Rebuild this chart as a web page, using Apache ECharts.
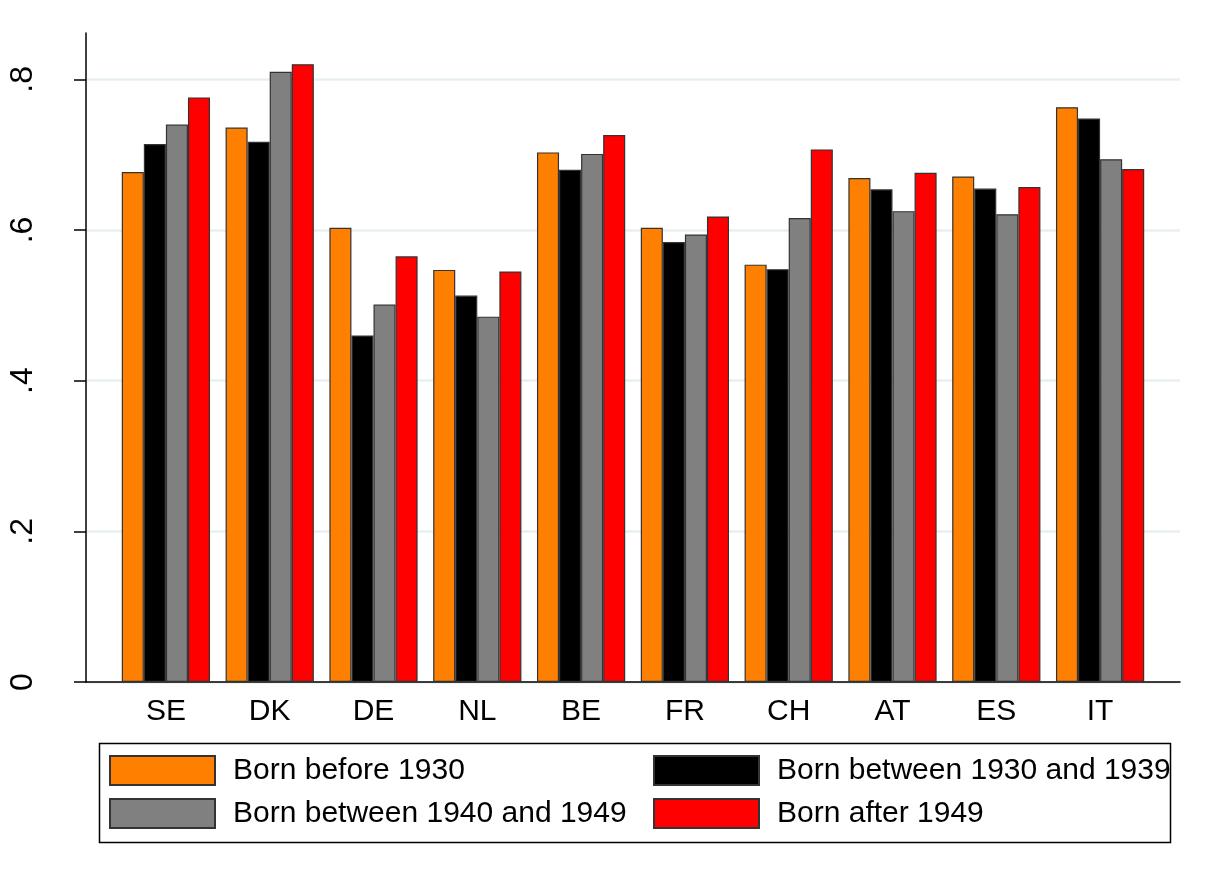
<!DOCTYPE html>
<html>
<head>
<meta charset="utf-8">
<script src="https://cdn.jsdelivr.net/npm/echarts@6/dist/echarts.min.js"></script>
<style>
  html, body { margin: 0; padding: 0; background: #fff; }
  #chart { width: 1210px; height: 880px; }
</style>
</head>
<body>
<div id="chart"></div>
<script>
// 数据
const countries = ['SE', 'DK', 'DE', 'NL', 'BE', 'FR', 'CH', 'AT', 'ES', 'IT'];
const seriesNames = ['Born before 1930', 'Born between 1930 and 1939', 'Born between 1940 and 1949', 'Born after 1949'];
const bornBefore1930 = [0.677, 0.736, 0.603, 0.547, 0.703, 0.603, 0.554, 0.669, 0.671, 0.763];
const born1930to1939 = [0.714, 0.717, 0.460, 0.513, 0.680, 0.584, 0.548, 0.654, 0.655, 0.748];
const born1940to1949 = [0.740, 0.810, 0.501, 0.485, 0.701, 0.594, 0.616, 0.625, 0.621, 0.694];
const bornAfter1949 = [0.776, 0.820, 0.565, 0.545, 0.726, 0.618, 0.707, 0.676, 0.657, 0.681];
const yTicks = [0, 0.2, 0.4, 0.6, 0.8];
const yTickLabels = ['0', '.2', '.4', '.6', '.8'];

const colors = ['#FF8000', '#000000', '#808080', '#FF0000'];
const font = 'Liberation Sans, Arial, sans-serif';
const yMax = 0.8615;

const myChart = echarts.init(document.getElementById('chart'));

const allData = [bornBefore1930, born1930to1939, born1940to1949, bornAfter1949];

const legendBase = {
  orient: 'vertical', top: 755, itemGap: 12, padding: 0,
  itemWidth: 105, itemHeight: 29, icon: 'rect', selectedMode: false,
  textStyle: { fontSize: 30, lineHeight: 30, color: '#000', fontFamily: font, padding: [0, 0, 0, 13] }
};

const option = {
  animation: false,
  color: colors,
  textStyle: { fontFamily: font },
  grid: [
    // 坐标轴
    { left: 86, right: 30, top: 33, bottom: 198 },
    // 网格线
    { left: 86, right: 30, top: 79.3, bottom: 198 },
    // 柱子
    { left: 114, right: 58, top: 33, bottom: 198 }
  ],
  xAxis: [
    {
      gridIndex: 0, type: 'value', min: 0, max: 1,
      axisLine: { show: true, lineStyle: { color: '#000', width: 1.5 } },
      axisTick: { show: false }, axisLabel: { show: false }, splitLine: { show: false }
    },
    {
      gridIndex: 1, type: 'value', min: 0, max: 1, show: false
    },
    {
      gridIndex: 2, type: 'category', data: countries,
      axisLine: { show: false }, axisTick: { show: false },
      axisLabel: { color: '#000', fontSize: 30, margin: 15, fontFamily: font }
    }
  ],
  yAxis: [
    {
      gridIndex: 0, type: 'value', min: 0, max: yMax,
      axisLine: { show: true, lineStyle: { color: '#000', width: 1.5 } },
      axisTick: { show: true, inside: false, length: 12, customValues: yTicks, lineStyle: { color: '#000', width: 1.5 } },
      axisLabel: {
        customValues: yTicks, rotate: 90, margin: 47, color: '#000', fontSize: 32, fontFamily: font,
        formatter: (v) => yTickLabels[yTicks.findIndex(t => Math.abs(t - v) < 1e-6)] || ''
      },
      splitLine: { show: false }
    },
    {
      gridIndex: 1, type: 'value', min: 0, max: 0.8, interval: 0.2,
      axisLine: { show: false }, axisTick: { show: false }, axisLabel: { show: false },
      splitLine: { show: true, lineStyle: { color: '#E8EFF1', width: 2.5 } }
    },
    {
      gridIndex: 2, type: 'value', min: 0, max: yMax, show: false
    }
  ],
  legend: [
    Object.assign({}, legendBase, { left: 109, data: [seriesNames[0], seriesNames[2]] }),
    Object.assign({}, legendBase, { left: 653, data: [seriesNames[1], seriesNames[3]] })
  ],
  graphic: [
    {
      type: 'rect', left: 97, top: 741, silent: true,
      shape: { width: 1071, height: 99 },
      style: { fill: 'none', stroke: '#000', lineWidth: 1.5 }
    }
  ],
  series: seriesNames.map((name, i) => ({
    name: name,
    type: 'bar',
    xAxisIndex: 2,
    yAxisIndex: 2,
    barGap: '0%',
    barCategoryGap: '15%',
    itemStyle: { color: colors[i], borderColor: '#333', borderWidth: 1.2 },
    data: allData[i]
  }))
};

myChart.setOption(option);
</script>
</body>
</html>
